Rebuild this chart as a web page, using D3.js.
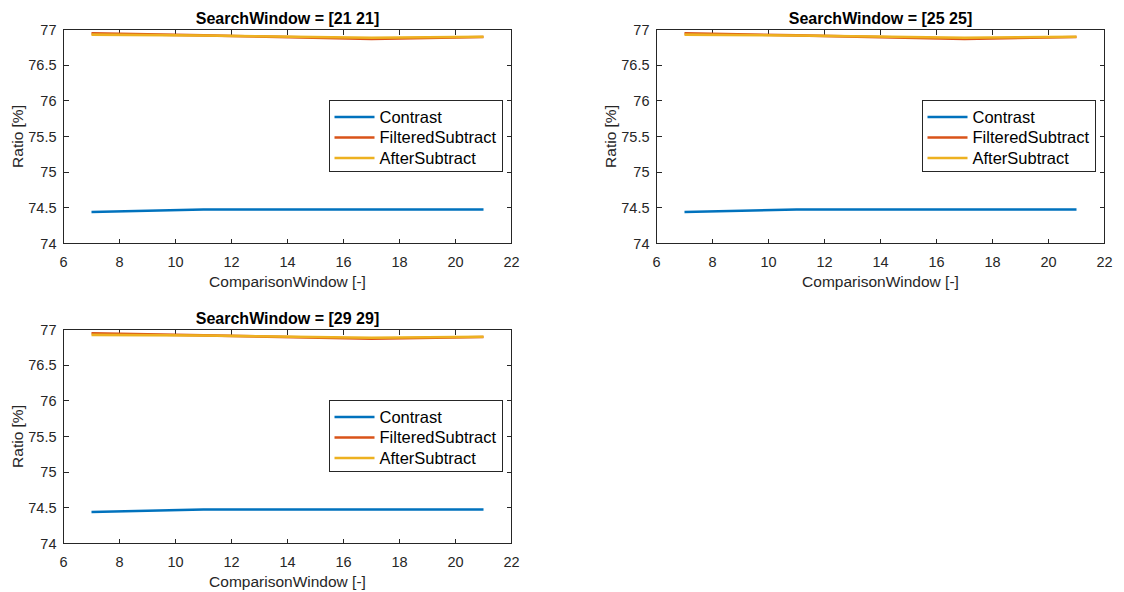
<!DOCTYPE html>
<html><head><meta charset="utf-8">
<script src="https://cdn.jsdelivr.net/npm/d3@7"></script>
<style>
body{margin:0;background:#fff;}
svg{display:block;font-family:"Liberation Sans",Arial,sans-serif;}
</style></head>
<body><svg id="c" width="1124" height="592"></svg>
<script>
const comparisonWindow = [7, 11, 17, 21];
const searchWindowTitles = ["SearchWindow = [21 21]", "SearchWindow = [25 25]", "SearchWindow = [29 29]"];
const seriesNames = ["Contrast", "FilteredSubtract", "AfterSubtract"];
const contrast21 = [74.442, 74.477, 74.477, 74.477];
const filtered21 = [76.945, 76.918, 76.868, 76.895];
const after21 = [76.928, 76.915, 76.885, 76.898];
const contrast25 = [74.442, 74.477, 74.477, 74.477];
const filtered25 = [76.945, 76.918, 76.868, 76.895];
const after25 = [76.928, 76.915, 76.885, 76.898];
const contrast29 = [74.442, 74.477, 74.477, 74.477];
const filtered29 = [76.948, 76.918, 76.870, 76.895];
const after29 = [76.925, 76.915, 76.885, 76.898];
const xTicks = [6, 8, 10, 12, 14, 16, 18, 20, 22];
const yTicks = [74, 74.5, 75, 75.5, 76, 76.5, 77];
const xLabel = "ComparisonWindow [-]";
const yLabel = "Ratio [%]";

const colors = ["#0072BD", "#D95319", "#EDB120"];
const axisCol = "#262626";
const svg = d3.select("#c");

function panel(x0, y0, w, h, title, series) {
  const g = svg.append("g");
  const x = d3.scaleLinear().domain([6, 22]).range([x0, x0 + w]);
  const y = d3.scaleLinear().domain([74, 77]).range([y0 + h, y0]);
  const tl = 5;
  g.append("rect").attr("x", x0).attr("y", y0).attr("width", w).attr("height", h)
    .attr("fill", "#fff").attr("stroke", axisCol).attr("stroke-width", 1).attr("shape-rendering", "crispEdges");
  xTicks.forEach(t => {
    g.append("line").attr("x1", x(t)).attr("x2", x(t)).attr("y1", y0 + h).attr("y2", y0 + h - tl)
      .attr("stroke", axisCol).attr("shape-rendering", "crispEdges");
    g.append("line").attr("x1", x(t)).attr("x2", x(t)).attr("y1", y0).attr("y2", y0 + tl)
      .attr("stroke", axisCol).attr("shape-rendering", "crispEdges");
    g.append("text").attr("x", x(t)).attr("y", y0 + h + 23).attr("text-anchor", "middle")
      .attr("font-size", 14.5).attr("fill", axisCol).text(t);
  });
  yTicks.forEach(t => {
    g.append("line").attr("x1", x0).attr("x2", x0 + tl).attr("y1", y(t)).attr("y2", y(t))
      .attr("stroke", axisCol).attr("shape-rendering", "crispEdges");
    g.append("line").attr("x1", x0 + w).attr("x2", x0 + w - tl).attr("y1", y(t)).attr("y2", y(t))
      .attr("stroke", axisCol).attr("shape-rendering", "crispEdges");
    g.append("text").attr("x", x0 - 7).attr("y", y(t) + 5).attr("text-anchor", "end")
      .attr("font-size", 14.5).attr("fill", axisCol).text(t);
  });
  const line = d3.line().x((d, i) => x(comparisonWindow[i])).y(d => y(d));
  series.forEach((s, k) => {
    g.append("path").attr("d", line(s)).attr("fill", "none").attr("stroke", colors[k]).attr("stroke-width", 2.6);
  });
  g.append("text").attr("x", x0 + w / 2).attr("y", y0 - 6).attr("text-anchor", "middle")
    .attr("font-size", 16).attr("font-weight", "bold").attr("fill", "#000").text(title);
  g.append("text").attr("x", x0 + w / 2).attr("y", y0 + h + 43).attr("text-anchor", "middle")
    .attr("font-size", 15.5).attr("fill", axisCol).text(xLabel);
  g.append("text").attr("transform", `translate(${x0 - 41},${y0 + h / 2}) rotate(-90)`)
    .attr("text-anchor", "middle").attr("font-size", 15.5).attr("fill", axisCol).text(yLabel);
  // legend
  const lx = x0 + w - 182, ly = y0 + 71, lw = 173, lh = 71;
  g.append("rect").attr("x", lx).attr("y", ly).attr("width", lw).attr("height", lh)
    .attr("fill", "#fff").attr("stroke", axisCol).attr("shape-rendering", "crispEdges");
  seriesNames.forEach((n, k) => {
    const yy = ly + 16.5 + k * 20.5;
    g.append("line").attr("x1", lx + 5).attr("x2", lx + 45).attr("y1", yy).attr("y2", yy)
      .attr("stroke", colors[k]).attr("stroke-width", 2.6);
    g.append("text").attr("x", lx + 50).attr("y", yy + 5.5).attr("font-size", 16.5).attr("fill", "#000").text(n);
  });
}

panel(63.5, 29.5, 448, 214, searchWindowTitles[0], [contrast21, filtered21, after21]);
panel(656.5, 29.5, 448, 214, searchWindowTitles[1], [contrast25, filtered25, after25]);
panel(63.5, 329.5, 448, 214, searchWindowTitles[2], [contrast29, filtered29, after29]);
</script></body></html>
